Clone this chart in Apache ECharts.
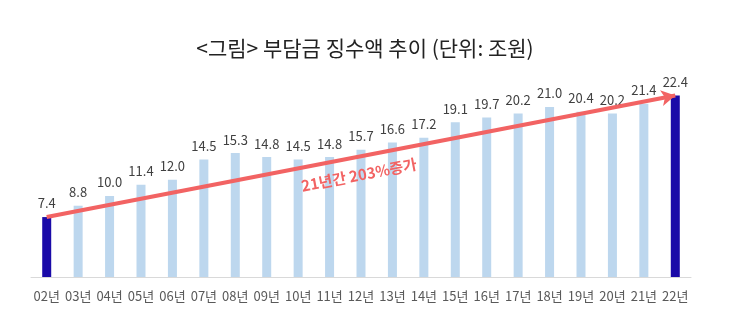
<!DOCTYPE html>
<html>
<head>
<meta charset="utf-8">
<script src="https://cdn.jsdelivr.net/npm/echarts@6/dist/echarts.min.js"></script>
<style>
  html, body { margin: 0; padding: 0; background: #ffffff; }
  #chart { width: 730px; height: 324px; }
</style>
</head>
<body>
<div id="chart"></div>
<script>
// 부담금 징수액 (조원), 2002–2022
const years = ['02년','03년','04년','05년','06년','07년','08년','09년','10년','11년','12년','13년','14년','15년','16년','17년','18년','19년','20년','21년','22년'];
const amounts = [7.4, 8.8, 10.0, 11.4, 12.0, 14.5, 15.3, 14.8, 14.5, 14.8, 15.7, 16.6, 17.2, 19.1, 19.7, 20.2, 21.0, 20.4, 20.2, 21.4, 22.4];
const highlightYears = ['02년', '22년'];

const FONT = '"Noto Sans CJK KR", "Noto Sans", sans-serif';
const LIGHT = '#bdd7ee';
const DARK = '#1a0aa8';
const ARROW = '#f26363';

const chart = echarts.init(document.getElementById('chart'));

chart.setOption({
  backgroundColor: '#ffffff',
  animation: false,
  textStyle: { fontFamily: FONT },
  title: {
    text: '<그림> 부담금 징수액 추이 (단위: 조원)',
    left: 'center',
    top: 33,
    textStyle: { fontFamily: FONT, fontSize: 21, fontWeight: 'normal', color: '#222222' }
  },
  grid: { left: 31, width: 660, top: 74.5, height: 202.5 },
  xAxis: {
    type: 'category',
    data: years,
    boundaryGap: true,
    axisLine: { lineStyle: { color: '#d9d9d9', width: 1 } },
    axisTick: { show: false },
    axisLabel: { interval: 0, color: '#595959', fontSize: 13, margin: 13, fontFamily: FONT }
  },
  yAxis: {
    type: 'value',
    min: 0,
    max: 25,
    show: false,
    splitLine: { show: false }
  },
  series: [{
    type: 'bar',
    barWidth: 9,
    data: amounts.map((v, i) => ({
      value: v,
      itemStyle: { color: highlightYears.includes(years[i]) ? DARK : LIGHT }
    })),
    label: {
      show: true,
      position: 'top',
      distance: 7,
      color: '#404040',
      fontSize: 13,
      fontFamily: FONT,
      formatter: p => p.value.toFixed(1)
    },
    markLine: {
      silent: true,
      symbol: ['none', 'arrow'],
      symbolSize: [12, 14],
      lineStyle: { color: ARROW, width: 4, type: 'solid' },
      label: { show: false },
      data: [[
        { coord: [years[0], amounts[0]] },
        { coord: [years[years.length - 1], amounts[amounts.length - 1]] }
      ]]
    }
  }],
  graphic: [{
    type: 'text',
    z: 100,
    x: 359,
    y: 175,
    rotation: 10.9 * Math.PI / 180,
    style: {
      text: '21년간 203%증가',
      fill: ARROW,
      font: 'bold 15px ' + FONT,
      align: 'center',
      verticalAlign: 'middle'
    }
  }]
});
</script>
</body>
</html>
